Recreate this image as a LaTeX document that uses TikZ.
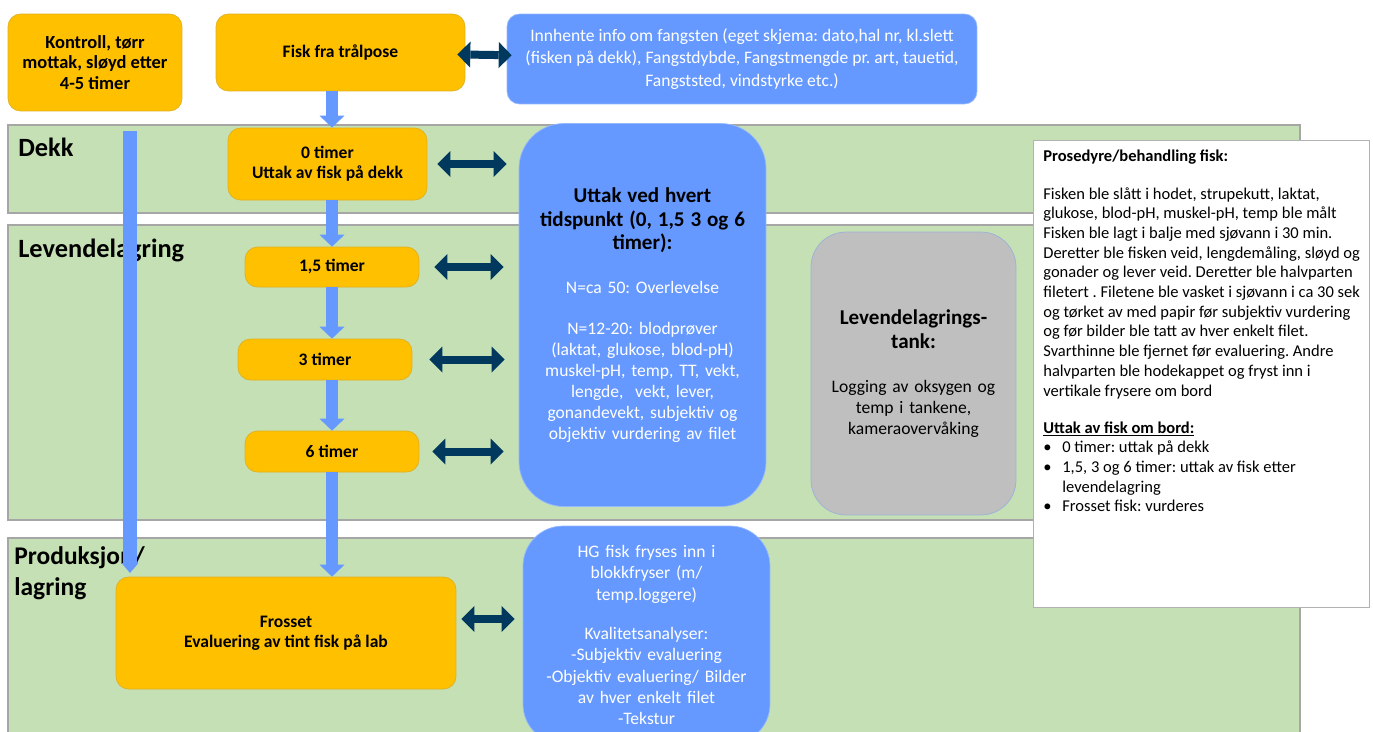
\documentclass[tikz,border=0pt]{standalone}
\usepackage{fontspec}
\setmainfont{Carlito}
\usetikzlibrary{arrows.meta}
\frenchspacing

\definecolor{fishorange}{RGB}{255,192,0}
\definecolor{infoblue}{RGB}{102,153,255}
\definecolor{bandgreen}{RGB}{197,224,180}
\definecolor{darknavy}{RGB}{0,56,94}
\definecolor{tankgray}{RGB}{191,191,191}

\newcommand{\headfont}{\fontsize{12}{13.6}\selectfont\bfseries}
\newcommand{\bodyfont}{\fontsize{10}{12}\selectfont\mdseries}

\begin{document}
\begin{tikzpicture}[x=0.02cm, y=-0.02cm,
    band/.style={fill=bandgreen, draw=gray!70, line width=0.6pt},
    bandtitle/.style={anchor=base west, inner sep=0, align=left, font=\fontsize{15}{17.6}\selectfont\bfseries},
    fishbox/.style={shape=rectangle, rounded corners=0.25cm, fill=fishorange, draw=fishorange!75!gray, line width=0.4pt, align=center, font=\fontsize{10}{11.6}\selectfont\bfseries},
    infobox/.style={shape=rectangle, rounded corners=0.25cm, fill=infoblue, draw=infoblue!70!white, line width=0.4pt, align=center, text=white, font=\fontsize{10}{12}\selectfont},
    flow/.style={draw=infoblue, line width=0.23cm, -{Triangle[width=0.5cm, length=0.24cm, line width=0pt]}},
    link/.style={draw=darknavy, line width=0.16cm, {Triangle[width=0.52cm, length=0.26cm, line width=0pt]}-{Triangle[width=0.52cm, length=0.26cm, line width=0pt]}}]
    \useasboundingbox (0,0) rectangle (1373,731);
    % bands
    \filldraw[band] (8,125) rectangle (1300,213);
    \filldraw[band] (8,225) rectangle (1300,520);
    \filldraw[band] (8,538) rectangle (1300,760);
    \node[bandtitle] (dekklabel) at (18,156) {Dekk};
    \node[bandtitle] (levlabel) at (18,257) {Levendelagring};
    \node[bandtitle, font=\fontsize{14.5}{17.6}\selectfont\bfseries, anchor=north west] (prodlabel) at (14,546) {Produksjon/\\lagring};

    % left bar
    \coordinate (bartop) at (130,131);
    \coordinate (barend) at (130,573);
    \draw[draw=infoblue, line width=0.28cm, -{Triangle[width=0.34cm, length=0.2cm, line width=0pt]}] (bartop) -- (barend);

    % boxes
    \node[fishbox, font=\fontsize{10.5}{11.7}\selectfont\bfseries, minimum width=3.48cm, minimum height=1.94cm] (kontroll) at (95,62.5) {Kontroll, tørr\\mottak, sløyd etter\\4-5 timer};
    \node[fishbox, minimum width=4.98cm, minimum height=1.54cm] (tralpose) at (340.5,52.5) {Fisk fra trålpose};
    \node[infobox, font=\fontsize{10}{12.7}\selectfont, minimum width=9.4cm, minimum height=1.8cm] (fangst) at (742,59) {Innhente info om fangsten (eget skjema: dato,hal nr, kl.slett\\(fisken på dekk), Fangstdybde, Fangstmengde pr. art, tauetid,\\Fangststed, vindstyrke etc.)};
    \node[fishbox, minimum width=3.98cm, minimum height=1.44cm] (t0) at (327.5,164) {0 timer\\Uttak av fisk på dekk};
    \node[fishbox, minimum width=3.48cm, minimum height=0.8cm] (t15) at (332,267) {1,5 timer};
    \node[fishbox, minimum width=3.48cm, minimum height=0.82cm] (t3) at (325,359.5) {3 timer};
    \node[fishbox, minimum width=3.48cm, minimum height=0.82cm] (t6) at (332,451.5) {6 timer};
    \node[fishbox, minimum width=6.8cm, minimum height=2.24cm] (frosset) at (286,633) {Frosset\\Evaluering av tint fisk på lab};
    \node[infobox, text width=4.6cm, rounded corners=0.9cm, minimum width=4.94cm, minimum height=7.66cm] (uttak) at (642.5,315) {\headfont\color{black}Uttak ved hvert\\tidspunkt (0, 1,5 3 og 6\\timer):\\[13pt]\bodyfont\color{white}N=ca 50: Overlevelse\\[11pt]N=12-20: blodprøver\\(laktat, glukose, blod-pH)\\muskel-pH, temp, TT, vekt,\\lengde,\ \ vekt, lever,\\gonandevekt, subjektiv og\\objektiv vurdering av filet};
    \node[infobox, text width=3.8cm, fill=tankgray, draw=infoblue!40!tankgray, text=black, rounded corners=0.7cm, minimum width=4.1cm, minimum height=5.66cm] (tank) at (913.5,373.5) {\headfont Levendelagrings-\\tank:\\[13pt]\bodyfont Logging av oksygen og\\temp i tankene,\\kameraovervåking};
    \node[infobox, text width=4.6cm, rounded corners=0.8cm, minimum width=4.94cm, minimum height=4.36cm] (frys) at (646.5,635) {HG fisk fryses inn i\\blokkfryser (m/\\temp.loggere)\\[10.7pt]Kvalitetsanalyser:\\-Subjektiv evaluering\\-Objektiv evaluering/ Bilder\\av hver enkelt filet\\-Tekstur};
    \node[shape=rectangle, fill=white, draw=gray!60, line width=0.5pt, minimum width=6.72cm, minimum height=9.34cm] (prosedyre) at (1201,373.5) {};
    \node[anchor=north west, align=left, inner sep=0, font=\fontsize{9.4}{11.2}\selectfont] (prosedyretext) at (1043,150) {\textbf{Prosedyre/behandling fisk:}\\[10pt]
        Fisken ble slått i hodet, strupekutt, laktat,\\
        glukose, blod-pH, muskel-pH, temp ble målt\\
        Fisken ble lagt i balje med sjøvann i 30 min.\\
        Deretter ble fisken veid, lengdemåling, sløyd og\\
        gonader og lever veid. Deretter ble halvparten\\
        filetert . Filetene ble vasket i sjøvann i ca 30 sek\\
        og tørket av med papir før subjektiv vurdering\\
        og før bilder ble tatt av hver enkelt filet.\\
        Svarthinne ble fjernet før evaluering. Andre\\
        halvparten ble hodekappet og fryst inn i\\
        vertikale frysere om bord\\[10pt]
        \textbf{\underline{Uttak av fisk om bord:}}\\
        \makebox[10.8pt][l]{\textbullet}0 timer: uttak på dekk\\
        \makebox[10.8pt][l]{\textbullet}1,5, 3 og 6 timer: uttak av fisk etter\\
        \hspace*{10.8pt}levendelagring\\
        \makebox[10.8pt][l]{\textbullet}Frosset fisk: vurderes};

    % flow down
    \draw[flow] (tralpose.south -| t15) -- (t0.north -| t15);
    \draw[flow] (t0.south -| t15) -- (t15);
    \draw[flow] (t15) -- (t3.north -| t15);
    \draw[flow] (t3.south -| t15) -- (t6);
    \draw[flow] (t6) -- (t6 |- frosset.north);

    % links
    \draw[link, shorten <=-0.16cm, shorten >=-0.1cm] (tralpose) -- (fangst);
    \draw[link, shorten <=0.2cm, shorten >=0.24cm] (t0) -- (t0 -| uttak.west);
    \draw[link, shorten <=0.3cm, shorten >=0.3cm] (t15) -- (t15 -| uttak.west);
    \draw[link, shorten <=0.34cm, shorten >=0.28cm] (t3) -- (t3 -| uttak.west);
    \draw[link, shorten <=0.26cm, shorten >=0.3cm] (t6) -- (t6 -| uttak.west);
    \draw[link, shorten <=0.1cm, shorten >=0.16cm] (frosset.east |- 0,619) -- (frys.west |- 0,619);
\end{tikzpicture}
\end{document}
